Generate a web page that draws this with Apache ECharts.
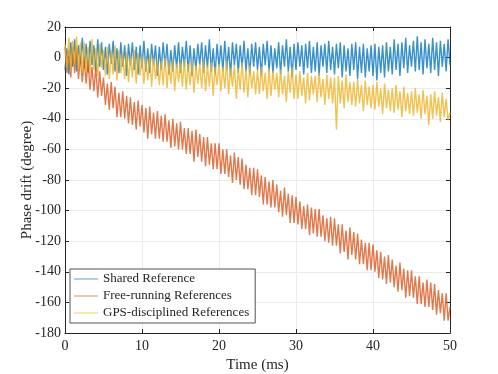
<!DOCTYPE html>
<html>
<head>
<meta charset="utf-8">
<script src="https://cdn.jsdelivr.net/npm/echarts@6/dist/echarts.min.js"></script>
<style>
    html, body { margin: 0; padding: 0; background: #fff; }
    #mychart { width: 498px; height: 374px; }
</style>
</head>
<body>
<div id="mychart"></div>
<script>
    // sampling step of the traces (ms)
    var dt = 0.25
    var names = ['Shared Reference', 'Free-running References', 'GPS-disciplined References']

    // phase drift (degree), one value every 0.25 ms from 0 to 50 ms
    var shared = [
        -8, 6, -11, 10, -6, 12, -9, 8, -4, 13,
        -7, 9, -10, 11, -5, 8, -9, 12, -6, 10,
        -8, 7, -11, 9, -4, 11, -9, 6, -10, 10,
        -6, 8, -12, 9, -5, 10, -8, 7, -11, 8,
        -7, 11, -9, 6, -10, 9, -5, 8, -12, 7,
        -8, 10, -6, 9, -11, 5, -9, 8, -7, 10,
        -10, 7, -6, 11, -9, 8, -12, 6, -8, 9,
        -5, 10, -10, 8, -7, 12, -9, 6, -11, 9,
        -6, 8, -9, 11, -8, 7, -12, 10, -5, 9,
        -10, 8, -7, 11, -9, 6, -11, 9, -6, 10,
        -8, 7, -12, 9, -5, 11, -9, 8, -10, 6,
        -7, 10, -11, 8, -6, 12, -9, 7, -13, 9,
        -8, 10, -6, 8, -11, 9, -7, 11, -10, 7,
        -9, 10, -12, 8, -6, 9, -10, 11, -8, 7,
        -11, 9, -7, 10, -13, 8, -9, 6, -12, 9,
        -8, 10, -14, 7, -10, 9, -13, 6, -9, 8,
        -12, 9, -15, 7, -10, 8, -13, 10, -9, 7,
        -11, 12, -8, 9, -12, 10, -7, 13, -10, 8,
        -6, 11, -9, 14, -8, 10, -11, 12, -7, 9,
        -10, 13, -8, 10, -12, 11, -6, 9, -9, 12,
        -5
    ]
    var freeRunning = [
        7, -10, 5, -13, 7, -10, 7, -14, 1, -16,
        -1, -17, -1, -21, -6, -22, -6, -26, -9, -25,
        -13, -31, -17, -34, -16, -33, -19, -39, -23, -39,
        -22, -40, -25, -43, -26, -44, -29, -47, -28, -45,
        -31, -49, -33, -53, -32, -50, -36, -53, -35, -53,
        -38, -55, -37, -55, -41, -59, -40, -58, -43, -60,
        -42, -60, -46, -63, -46, -63, -48, -68, -47, -65,
        -50, -68, -52, -71, -52, -70, -56, -73, -56, -73,
        -56, -76, -60, -76, -60, -78, -64, -82, -62, -80,
        -65, -83, -66, -86, -70, -86, -72, -90, -72, -90,
        -73, -91, -77, -96, -78, -96, -81, -98, -80, -98,
        -83, -101, -87, -104, -85, -103, -89, -108, -90, -108,
        -91, -109, -94, -112, -97, -112, -96, -116, -98, -115,
        -99, -117, -99, -117, -103, -120, -105, -121, -104, -123,
        -105, -123, -109, -128, -109, -127, -113, -132, -111, -129,
        -114, -132, -115, -135, -119, -135, -121, -139, -121, -139,
        -122, -140, -126, -144, -127, -145, -130, -148, -129, -147,
        -132, -150, -136, -153, -134, -152, -138, -157, -139, -156,
        -139, -157, -143, -161, -143, -161, -147, -163, -145, -163,
        -147, -165, -148, -168, -152, -167, -154, -172, -154, -172,
        -163
    ]
    var gpsDisciplined = [
        9, -7, 13, -9, 11, -5, 14, -8, 10, -10,
        10, -9, 7, -11, 12, -8, 6, -12, 9, -7,
        5, -12, 7, -14, 4, -11, 8, -15, 5, -10,
        2, -14, 4, -16, 1, -13, 5, -17, 3, -12,
        1, -17, -1, -15, 2, -19, 0, -14, -2, -18,
        -2, -18, 0, -20, -3, -17, -1, -22, -4, -16,
        -3, -19, -1, -21, -4, -18, -2, -23, -5, -17,
        -4, -20, -2, -22, -5, -19, -3, -25, -6, -18,
        -4, -22, -6, -20, -2, -24, -7, -19, -5, -27,
        -7, -21, -3, -23, -8, -26, -5, -20, -9, -24,
        -8, -24, -6, -22, -10, -27, -7, -25, -9, -21,
        -10, -26, -8, -24, -12, -29, -9, -23, -6, -27,
        -11, -27, -9, -25, -13, -30, -10, -28, -12, -24,
        -12, -29, -10, -26, -14, -31, -11, -27, -13, -30,
        -13, -47, -12, -30, -15, -33, -11, -29, -16, -31,
        -16, -32, -14, -30, -18, -35, -15, -31, -19, -33,
        -18, -34, -16, -32, -20, -37, -17, -33, -21, -35,
        -20, -36, -18, -34, -22, -39, -19, -35, -23, -37,
        -22, -38, -20, -36, -24, -40, -21, -37, -25, -44,
        -24, -40, -22, -38, -26, -42, -23, -39, -27, -41,
        -36
    ]
    var values = [shared, freeRunning, gpsDisciplined]
    var colors = ['#0072BD', '#D95319', '#EDB120']

    var font = 'Liberation Serif'
    var ink = '#262626'

    var myChart = echarts.init(document.getElementById('mychart'))
    var lineY = []
    for (var i = 0; i < names.length; i++) {
        lineY.push({
            name: names[i],
            type: 'line',
            color: colors[i],
            symbol: 'none',
            animation: false,
            xAxisIndex: 0,
            yAxisIndex: 0,
            lineStyle: { width: 1.4, opacity: 0.78 },
            data: values[i].map(function (v, k) { return [k * dt, v] })
        })
    }

    var option = {
        backgroundColor: '#fff',
        textStyle: { fontFamily: font },
        legend: {
            data: names,
            orient: 'vertical',
            left: 70,
            top: 269,
            padding: [3, 6, 3, 4],
            itemGap: 3,
            itemWidth: 24,
            itemHeight: 1.2,
            icon: 'rect',
            backgroundColor: '#fff',
            borderColor: ink,
            borderWidth: 0.8,
            borderRadius: 0,
            itemStyle: { opacity: 0.55 },
            textStyle: { fontFamily: font, fontSize: 13, color: ink, lineHeight: 14 }
        },
        grid: { left: 65, right: 48, top: 27, bottom: 41, outerBoundsMode: 'none' },
        xAxis: [{
            type: 'value',
            min: 0, max: 50, interval: 10,
            name: 'Time (ms)',
            nameLocation: 'middle',
            nameGap: 25,
            nameMoveOverlap: false,
            nameTextStyle: { fontFamily: font, fontSize: 15, color: ink },
            axisLine: { onZero: false, lineStyle: { color: ink, width: 1 } },
            axisTick: { inside: true, length: 4, lineStyle: { color: ink } },
            axisLabel: { fontFamily: font, fontSize: 14, color: ink, margin: 6 },
            splitLine: { show: true, lineStyle: { color: '#ebebeb', width: 1 } }
        }, {
            type: 'value', position: 'top',
            min: 0, max: 50, interval: 10,
            axisLine: { onZero: false, lineStyle: { color: ink, width: 1 } },
            axisTick: { inside: true, length: 4, lineStyle: { color: ink } },
            axisLabel: { show: false },
            splitLine: { show: false }
        }],
        yAxis: [{
            type: 'value',
            min: -180, max: 20, interval: 20,
            name: 'Phase drift (degree)',
            nameLocation: 'middle',
            nameGap: 30,
            nameMoveOverlap: false,
            nameTextStyle: { fontFamily: font, fontSize: 15, color: ink },
            axisLine: { show: true, onZero: false, lineStyle: { color: ink, width: 1 } },
            axisTick: { show: true, inside: true, length: 4, lineStyle: { color: ink } },
            axisLabel: { fontFamily: font, fontSize: 14, color: ink, margin: 4 },
            splitLine: { show: true, lineStyle: { color: '#ebebeb', width: 1 } }
        }, {
            type: 'value', position: 'right',
            min: -180, max: 20, interval: 20,
            axisLine: { show: true, onZero: false, lineStyle: { color: ink, width: 1 } },
            axisTick: { show: true, inside: true, length: 4, lineStyle: { color: ink } },
            axisLabel: { show: false },
            splitLine: { show: false }
        }],
        series: lineY
    }
    myChart.setOption(option)
</script>
</body>
</html>
